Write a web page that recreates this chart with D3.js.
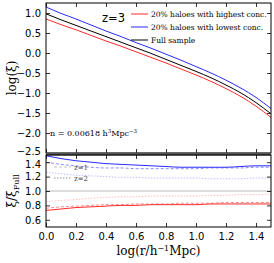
<!DOCTYPE html>
<html>
<head>
<meta charset="utf-8">
<script src="https://cdn.jsdelivr.net/npm/d3@7"></script>
<style>
  body { margin: 0; background: #fff; }
  svg text { fill: #000; }
</style>
</head>
<body>
<div id="chart"></div>
<script>
// log(r) sample points
var logR = [0, 0.1, 0.2, 0.3, 0.4, 0.5, 0.6, 0.7, 0.8, 0.9, 1.0, 1.1, 1.2, 1.3, 1.4, 1.5];

// log(xi) at z=3
var xiFull = [0.98, 0.83, 0.69, 0.55, 0.41, 0.27, 0.13, -0.01, -0.16, -0.31, -0.46, -0.62, -0.80, -1.00, -1.24, -1.52];
var xiLow  = [1.15, 0.99, 0.85, 0.70, 0.55, 0.41, 0.26, 0.12, -0.03, -0.18, -0.34, -0.50, -0.68, -0.88, -1.11, -1.39];
var xiHigh = [0.85, 0.71, 0.58, 0.44, 0.30, 0.17, 0.03, -0.11, -0.25, -0.40, -0.55, -0.71, -0.89, -1.09, -1.33, -1.61];

// ratio xi / xi_Full, bottom panel
var ratioLowZ3  = [1.49, 1.45, 1.42, 1.40, 1.38, 1.37, 1.36, 1.35, 1.34, 1.33, 1.33, 1.33, 1.33, 1.34, 1.35, 1.35];
var ratioLowZ1  = [1.40, 1.37, 1.35, 1.33, 1.32, 1.32, 1.31, 1.31, 1.31, 1.31, 1.31, 1.32, 1.32, 1.32, 1.33, 1.33];
var ratioLowZ2  = [1.26, 1.24, 1.22, 1.21, 1.20, 1.19, 1.19, 1.18, 1.18, 1.18, 1.18, 1.17, 1.17, 1.17, 1.18, 1.18];
var ratioHighZ3 = [0.73, 0.75, 0.77, 0.78, 0.79, 0.80, 0.80, 0.81, 0.81, 0.81, 0.81, 0.82, 0.82, 0.82, 0.82, 0.82];
var ratioHighZ1 = [0.76, 0.78, 0.79, 0.80, 0.81, 0.81, 0.82, 0.82, 0.82, 0.83, 0.83, 0.83, 0.84, 0.84, 0.84, 0.84];
var ratioHighZ2 = [0.85, 0.87, 0.88, 0.90, 0.91, 0.92, 0.92, 0.93, 0.93, 0.93, 0.93, 0.94, 0.94, 0.95, 0.95, 0.96];

var xTicks = [0.0, 0.2, 0.4, 0.6, 0.8, 1.0, 1.2, 1.4];
var yTopTicks = [1.0, 0.5, 0.0, -0.5, -1.0, -1.5, -2.0, -2.5];
var yBotTicks = [0.6, 0.8, 1.0, 1.2, 1.4];

var legendTop = [
  {label: "20% haloes with highest conc.", color: "#ff2a2a"},
  {label: "20% haloes with lowest conc.", color: "#2a2aff"},
  {label: "Full sample", color: "#000"}
];

var W = 274, H = 263;
var left = 46, right = 271;
var topY0 = 3, topY1 = 153, botY0 = 155, botY1 = 227;

var svg = d3.select("#chart").append("svg")
  .attr("width", W).attr("height", H);

var x = d3.scaleLinear().domain([0, 1.5]).range([left, right]);
var yTop = d3.scaleLinear().domain([-2.5, 1.25]).range([topY1, topY0]);
var yBot = d3.scaleLinear().domain([0.5, 1.5]).range([botY1, botY0]);

var fmt = function(d) { return d3.format(".1f")(d).replace("-", "\u2212"); };
var tickFont = "DejaVu Sans, sans-serif";
var serif = "DejaVu Serif, Liberation Serif, serif";

function styleAxis(g) {
  g.select(".domain").remove();
  g.selectAll("line").attr("stroke", "#000").attr("stroke-width", 0.8);
  g.selectAll("text").style("font-family", tickFont).style("font-size", "10px");
}

// ---- top panel ----
var topG = svg.append("g");

function lineTop(vals) {
  return d3.line().x(function(d, i) { return x(logR[i]); })
    .y(function(d) { return yTop(d); })
    .curve(d3.curveMonotoneX)(vals);
}
[[xiHigh, "#ff2a2a"], [xiLow, "#2a2aff"], [xiFull, "#000"]].forEach(function(s) {
  topG.append("path").attr("d", lineTop(s[0]))
    .attr("fill", "none").attr("stroke", s[1]).attr("stroke-width", 1);
});

topG.append("g").attr("transform", "translate(" + left + ",0)")
  .call(d3.axisLeft(yTop).tickValues(yTopTicks).tickSize(-4).tickPadding(5).tickFormat(fmt))
  .call(styleAxis)
  .selectAll("text").attr("dy", function(d) { return d === -2.5 ? "0.1em" : "0.32em"; });
topG.append("g").attr("transform", "translate(" + right + ",0)")
  .call(d3.axisRight(yTop).tickValues(yTopTicks).tickSize(-4).tickFormat(""))
  .call(styleAxis);
topG.append("g").attr("transform", "translate(0," + topY0 + ")")
  .call(d3.axisTop(x).tickValues(xTicks).tickSize(-4).tickFormat(""))
  .call(styleAxis);
topG.append("g").attr("transform", "translate(0," + topY1 + ")")
  .call(d3.axisBottom(x).tickValues(xTicks).tickSize(-4).tickFormat(""))
  .call(styleAxis);

topG.append("rect").attr("x", left).attr("y", topY0)
  .attr("width", right - left).attr("height", topY1 - topY0)
  .attr("fill", "none").attr("stroke", "#000").attr("stroke-width", 1);

topG.append("text").attr("x", 102).attr("y", 22)
  .style("font-family", tickFont).style("font-size", "11.5px").text("z=3");

var lg = topG.selectAll(".lg").data(legendTop).enter().append("g")
  .attr("transform", function(d, i) { return "translate(131," + (14 + i * 13) + ")"; });
lg.append("line").attr("x1", 0).attr("x2", 17).attr("y1", 0).attr("y2", 0)
  .attr("stroke", function(d) { return d.color; }).attr("stroke-width", 1);
lg.append("text").attr("x", 20).attr("y", 2.5)
  .style("font-family", serif).style("font-size", "7.5px")
  .text(function(d) { return d.label; });

var nText = topG.append("text").attr("x", 50).attr("y", 136)
  .style("font-family", serif).style("font-size", "8px");
nText.append("tspan").text("n = 0.00618 h");
nText.append("tspan").attr("dy", -3).style("font-size", "5.5px").text("3");
nText.append("tspan").attr("dy", 3).text("Mpc");
nText.append("tspan").attr("dy", -3).style("font-size", "5.5px").text("\u22123");

topG.append("text")
  .attr("transform", "translate(16," + ((topY0 + topY1) / 2) + ") rotate(-90)")
  .attr("text-anchor", "middle")
  .style("font-family", serif).style("font-size", "12px")
  .text("log(\u03be)");

// thick separator between panels
svg.append("rect").attr("x", left).attr("y", topY1 - 0.5)
  .attr("width", right - left).attr("height", botY0 - topY1 + 1)
  .attr("fill", "#555");

// ---- bottom panel ----
var botG = svg.append("g");

botG.append("line").attr("x1", left).attr("x2", right)
  .attr("y1", yBot(1)).attr("y2", yBot(1))
  .attr("stroke", "#bbb").attr("stroke-width", 1);

function lineBot(vals) {
  return d3.line().x(function(d, i) { return x(logR[i]); })
    .y(function(d) { return yBot(d); })
    .curve(d3.curveMonotoneX)(vals);
}
var botSeries = [
  [ratioLowZ2, "#2a2aff", 0.3, "1.5,1.5"],
  [ratioHighZ2, "#ff2a2a", 0.3, "1.5,1.5"],
  [ratioLowZ1, "#2a2aff", 0.55, "3,2"],
  [ratioHighZ1, "#ff2a2a", 0.55, "3,2"],
  [ratioLowZ3, "#2a2aff", 1, null],
  [ratioHighZ3, "#ff2a2a", 1, null]
];
botSeries.forEach(function(s) {
  botG.append("path").attr("d", lineBot(s[0]))
    .attr("fill", "none").attr("stroke", s[1]).attr("stroke-opacity", s[2])
    .attr("stroke-width", 1).attr("stroke-dasharray", s[3]);
});

botG.append("g").attr("transform", "translate(" + left + ",0)")
  .call(d3.axisLeft(yBot).tickValues(yBotTicks).tickSize(-4).tickPadding(5).tickFormat(fmt))
  .call(styleAxis)
  .selectAll("text").attr("dy", function(d) { return d === 1.4 ? "0.5em" : "0.32em"; });
botG.append("g").attr("transform", "translate(" + right + ",0)")
  .call(d3.axisRight(yBot).tickValues(yBotTicks).tickSize(-4).tickFormat(""))
  .call(styleAxis);
botG.append("g").attr("transform", "translate(0," + botY0 + ")")
  .call(d3.axisTop(x).tickValues(xTicks).tickSize(-4).tickFormat(""))
  .call(styleAxis);
botG.append("g").attr("transform", "translate(0," + botY1 + ")")
  .call(d3.axisBottom(x).tickValues(xTicks).tickSize(-4).tickPadding(6).tickFormat(fmt))
  .call(styleAxis);

botG.append("rect").attr("x", left).attr("y", botY0)
  .attr("width", right - left).attr("height", botY1 - botY0)
  .attr("fill", "none").attr("stroke", "#000").attr("stroke-width", 1);

var zLeg = [{label: "z=1", dash: "3,2", op: 0.45}, {label: "z=2", dash: "1.5,1.5", op: 0.8}];
var zl = botG.selectAll(".zl").data(zLeg).enter().append("g")
  .attr("transform", function(d, i) { return "translate(54," + (167 + i * 11) + ")"; });
zl.append("line").attr("x1", 0).attr("x2", 17).attr("y1", 0).attr("y2", 0)
  .attr("stroke", "#777").attr("stroke-opacity", function(d) { return d.op; })
  .attr("stroke-dasharray", function(d) { return d.dash; });
zl.append("text").attr("x", 20).attr("y", 2.5)
  .style("font-family", serif).style("font-size", "7px").style("fill", "#444")
  .text(function(d) { return d.label; });

var yl = botG.append("text")
  .attr("transform", "translate(16," + ((botY0 + botY1) / 2) + ") rotate(-90)")
  .attr("text-anchor", "middle")
  .style("font-family", serif).style("font-size", "12px");
yl.append("tspan").text("\u03be/\u03be");
yl.append("tspan").attr("dy", 3).style("font-size", "8px").text("Full");

var xl = svg.append("text").attr("x", (left + right) / 2).attr("y", 255)
  .attr("text-anchor", "middle")
  .style("font-family", serif).style("font-size", "12px");
xl.append("tspan").text("log(r/h");
xl.append("tspan").attr("dy", -4).style("font-size", "8px").text("\u22121");
xl.append("tspan").attr("dy", 4).text("Mpc)");
</script>
</body>
</html>
